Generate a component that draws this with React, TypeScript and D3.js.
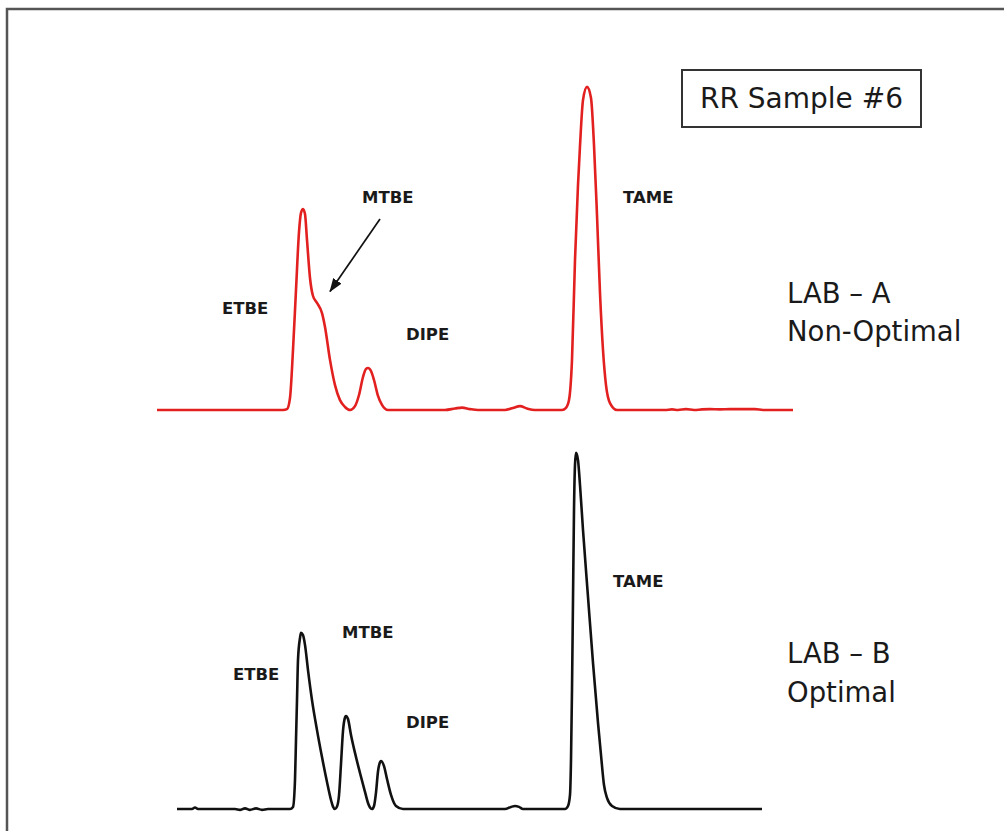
import React from "react";
import * as d3 from "d3";

// Chromatogram traces: [retention time (min), detector signal (arb. units)]
const labATrace: [number, number][] = [
  [0.14, 0], [2.66, 0], [2.74, 0.3], [2.8, 4], [2.86, 20], [2.92, 40], [2.98, 59.3],
  [3.02, 65.7], [3.06, 67], [3.1, 65.3], [3.14, 56.7], [3.2, 44], [3.26, 38],
  [3.34, 35.7], [3.44, 32.3], [3.5, 27.7], [3.6, 16.7], [3.7, 8.3], [3.8, 3.3],
  [3.9, 1], [4.0, 0], [4.1, 1.3], [4.18, 5], [4.26, 11], [4.32, 13.7], [4.36, 14],
  [4.42, 13], [4.48, 10], [4.56, 4.7], [4.64, 1.7], [4.76, 0], [5.9, 0], [6.1, 0.5],
  [6.24, 0.8], [6.4, 0.3], [6.56, 0], [7.1, 0], [7.26, 0.7], [7.4, 1.3], [7.54, 0.5],
  [7.7, 0], [8.24, 0], [8.32, 0.7], [8.38, 3.3], [8.44, 16.7], [8.5, 50], [8.56, 75],
  [8.6, 88], [8.66, 103.3], [8.74, 107.7], [8.82, 104], [8.88, 88.3], [8.94, 65],
  [9.0, 39], [9.06, 20], [9.12, 8.3], [9.2, 2.3], [9.34, 0], [10.3, 0], [10.44, 0.2],
  [10.56, 0], [10.72, 0.3], [10.88, 0], [11.04, 0.2], [11.2, 0.3], [11.4, 0.2],
  [11.6, 0.3], [11.8, 0.3], [12.1, 0.3], [12.26, 0], [12.86, 0],
];

const labBTrace: [number, number][] = [
  [0.54, 0], [0.84, 0], [0.9, 0.5], [0.96, 0], [1.7, 0], [1.8, -0.3], [1.9, 0.2],
  [2.0, -0.3], [2.12, 0.2], [2.24, -0.3], [2.36, 0], [2.8, 0], [2.86, 0.7], [2.9, 9.7],
  [2.92, 23], [2.94, 36.3], [2.96, 49.7], [3.0, 57], [3.02, 58.7], [3.06, 58],
  [3.1, 54.7], [3.16, 46.3], [3.24, 36.3], [3.34, 26.3], [3.44, 17.3], [3.54, 9],
  [3.62, 3], [3.66, 0.8], [3.7, 0], [3.74, 0.8], [3.78, 4.5], [3.82, 15], [3.86, 26],
  [3.9, 30.5], [3.92, 31], [3.96, 30], [4.02, 24.7], [4.1, 18.7], [4.2, 12], [4.3, 5.7],
  [4.36, 2], [4.4, 0.5], [4.44, 0], [4.48, 1], [4.52, 5.5], [4.56, 12.5], [4.6, 15.6],
  [4.62, 16], [4.68, 14.3], [4.74, 10], [4.82, 4.7], [4.92, 1], [5.06, 0], [7.1, 0],
  [7.22, 0.7], [7.3, 1], [7.38, 0.7], [7.46, 0], [8.3, 0], [8.36, 1], [8.4, 4.7],
  [8.42, 16.3], [8.44, 39.7], [8.46, 69.7], [8.48, 99.7], [8.5, 114.7], [8.52, 118.7],
  [8.56, 116.3], [8.6, 108], [8.66, 93], [8.76, 70.7], [8.86, 48.7], [8.96, 28.7],
  [9.02, 18], [9.08, 8], [9.14, 3.7], [9.24, 1], [9.4, 0], [12.24, 0],
];

// Peak names with label anchor (time, signal) for each run
const compoundNames = ["ETBE", "MTBE", "DIPE", "TAME"];
const labALabelAnchors: [number, number][] = [[1.44, 34], [4.24, 70.7], [5.12, 25.3], [9.46, 71]];
const labBLabelAnchors: [number, number][] = [[1.66, 45], [3.84, 59], [5.12, 28.7], [9.26, 75.7]];

// Arrow pointing at the MTBE shoulder in the LAB-A run: [from, to]
const mtbeArrow: [number, number][] = [[4.6, 63.7], [3.6, 39.5]];

const title = "RR Sample #6";
const labA = ["LAB \u2013 A", "Non-Optimal"];
const labB = ["LAB \u2013 B", "Optimal"];

const W = 1004;
const H = 831;

export default function App() {
  const x = d3.scaleLinear().domain([0, 13]).range([150, 800]);
  const yA = d3.scaleLinear().domain([0, 110]).range([410, 80]);
  const yB = d3.scaleLinear().domain([0, 120]).range([809, 449]);

  const lineA = d3
    .line<[number, number]>()
    .x((d) => x(d[0]))
    .y((d) => yA(d[1]))
    .curve(d3.curveMonotoneX);
  const lineB = d3
    .line<[number, number]>()
    .x((d) => x(d[0]))
    .y((d) => yB(d[1]))
    .curve(d3.curveMonotoneX);

  const ax1 = x(mtbeArrow[0][0]);
  const ay1 = yA(mtbeArrow[0][1]);
  const ax2 = x(mtbeArrow[1][0]);
  const ay2 = yA(mtbeArrow[1][1]);

  const peakFont = { fontFamily: "DejaVu Sans, Verdana, sans-serif", fontWeight: 700, fontSize: 16.5, fill: "#1a1a1a" };
  const bigFont = { fontFamily: "DejaVu Sans, Verdana, sans-serif", fontSize: 27.5, fill: "#1a1a1a" };

  return (
    <svg
      width={W}
      height={H}
      viewBox={`0 0 ${W} ${H}`}
      style={{ position: "absolute", left: 0, top: 0, background: "#fff" }}
    >
      <defs>
        <marker id="arrowHead" viewBox="0 0 14 10" refX="13" refY="5" markerWidth="14" markerHeight="10" orient="auto" markerUnits="userSpaceOnUse">
          <path d="M0,0 L14,5 L0,10 z" fill="#111" />
        </marker>
      </defs>

      {/* outer frame */}
      <rect x={7} y={9} width={1020} height={840} fill="none" stroke="#555" strokeWidth={2.5} />

      {/* title box */}
      <rect x={682} y={70} width={239} height={57} fill="#fff" stroke="#333" strokeWidth={2} />
      <text x={801.5} y={108} textAnchor="middle" style={{ ...bigFont, fontSize: 28 }}>
        {title}
      </text>

      {/* LAB-A trace */}
      <path d={lineA(labATrace) ?? ""} fill="none" stroke="#e2201f" strokeWidth={2.6} strokeLinejoin="round" />
      {compoundNames.map((n, i) => (
        <text key={`a-${n}`} x={x(labALabelAnchors[i][0])} y={yA(labALabelAnchors[i][1])} dominantBaseline="central" style={peakFont}>
          {n}
        </text>
      ))}
      <line x1={ax1} y1={ay1} x2={ax2} y2={ay2} stroke="#111" strokeWidth={1.7} markerEnd="url(#arrowHead)" />

      {/* LAB-B trace */}
      <path d={lineB(labBTrace) ?? ""} fill="none" stroke="#111" strokeWidth={2.6} strokeLinejoin="round" />
      {compoundNames.map((n, i) => (
        <text key={`b-${n}`} x={x(labBLabelAnchors[i][0])} y={yB(labBLabelAnchors[i][1])} dominantBaseline="central" style={peakFont}>
          {n}
        </text>
      ))}

      {/* run captions */}
      <text x={787} y={303} style={bigFont}>{labA[0]}</text>
      <text x={787} y={341} style={bigFont}>{labA[1]}</text>
      <text x={787} y={663} style={bigFont}>{labB[0]}</text>
      <text x={787} y={702} style={bigFont}>{labB[1]}</text>
    </svg>
  );
}
